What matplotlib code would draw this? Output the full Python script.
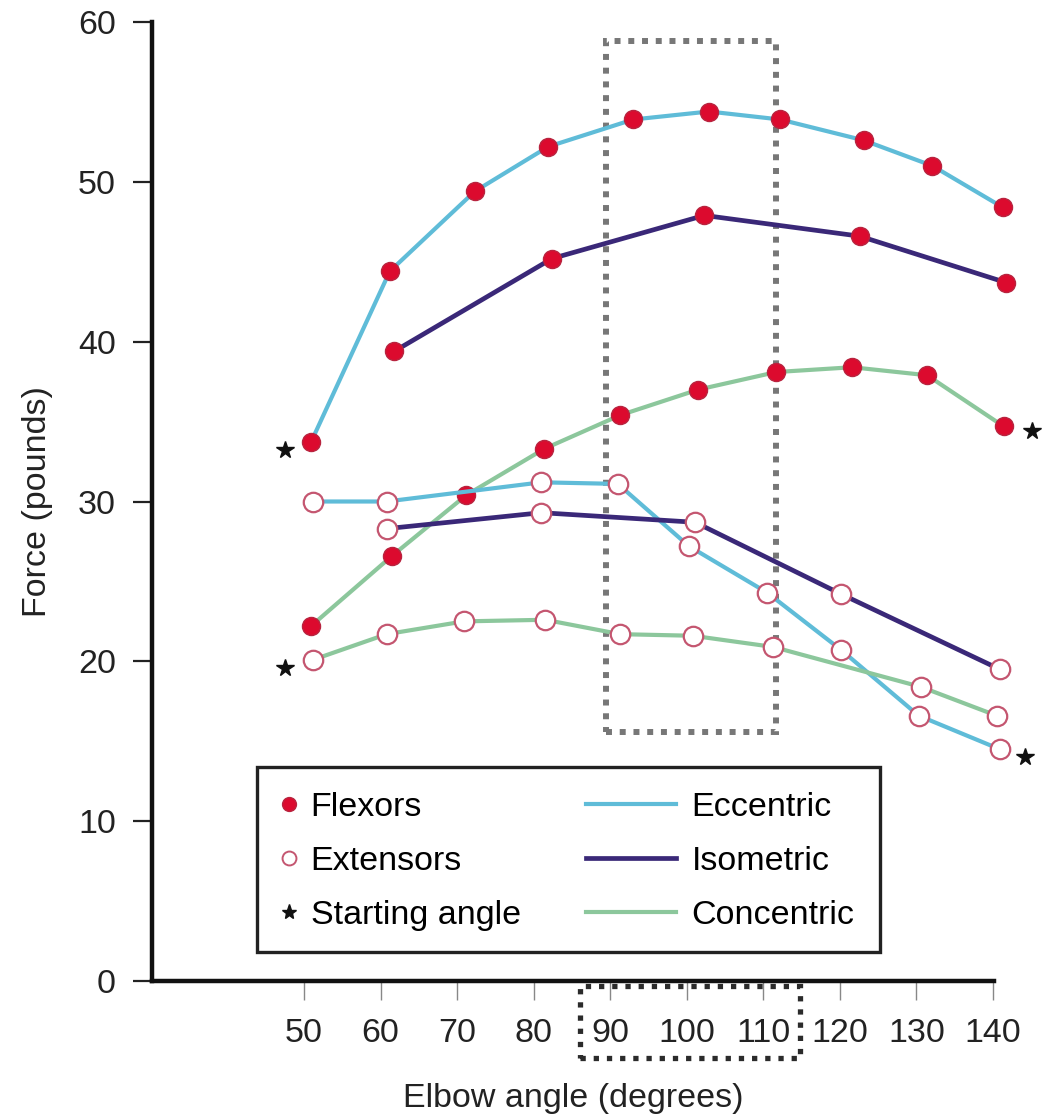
import matplotlib
matplotlib.use("Agg")
import matplotlib.pyplot as plt
from matplotlib.lines import Line2D
from matplotlib.patches import Rectangle

plt.rcParams['font.family'] = ['Liberation Sans', 'DejaVu Sans']

# ---- data ----
ecc_flex_x = [50.9, 61.2, 72.3, 81.9, 93.0, 102.9, 112.2, 123.1, 132.1, 141.3]
ecc_flex_y = [33.7, 44.4, 49.4, 52.2, 53.9, 54.4, 53.9, 52.6, 51.0, 48.4]

iso_flex_x = [61.8, 82.4, 102.3, 122.6, 141.7]
iso_flex_y = [39.4, 45.2, 47.9, 46.6, 43.7]

con_flex_x = [50.9, 61.5, 71.2, 81.4, 91.3, 101.5, 111.7, 121.6, 131.4, 141.4]
con_flex_y = [22.2, 26.6, 30.4, 33.3, 35.4, 37.0, 38.1, 38.4, 37.9, 34.7]

ecc_ext_x = [51.2, 60.8, 81.0, 91.0, 100.3, 110.5, 120.2, 130.3, 140.9]
ecc_ext_y = [30.0, 30.0, 31.2, 31.1, 27.2, 24.3, 20.7, 16.6, 14.5]

iso_ext_x = [60.8, 81.0, 101.1, 120.2, 140.9]
iso_ext_y = [28.3, 29.3, 28.7, 24.2, 19.5]

con_ext_x = [51.2, 60.8, 70.9, 81.5, 91.3, 100.8, 111.3, 130.6, 140.5]
con_ext_y = [20.1, 21.7, 22.5, 22.6, 21.7, 21.6, 20.9, 18.4, 16.6]

start_x = [47.5, 47.5, 145.1, 144.2]
start_y = [33.2, 19.6, 34.4, 14.0]

x_ticks = [50, 60, 70, 80, 90, 100, 110, 120, 130, 140]
y_ticks = [0, 10, 20, 30, 40, 50, 60]

box_main = (89.5, 15.6, 111.7, 58.8)     # x0, y0, x1, y1
box_ticks = (86.1, -4.8, 114.8, -0.3)

C_ECC = '#5fbcd8'
C_ISO = '#3a2878'
C_CON = '#8cc79c'
C_RED = '#dc0a2e'
C_RED_EDGE = '#b8243f'
C_OPEN_EDGE = '#c45670'

FS = 24.5

fig = plt.figure(figsize=(10.55, 11.14), dpi=100)
ax = fig.add_axes([152/1055, 1 - 981/1114, 842/1055, 959/1114])

def series(x, y, color, lw, filled):
    if filled:
        ax.plot(x, y, color=color, lw=lw, marker='o', ms=13,
                mfc=C_RED, mec=C_RED_EDGE, mew=1.0, clip_on=False, zorder=3)
    else:
        ax.plot(x, y, color=color, lw=lw, marker='o', ms=14,
                mfc='white', mec=C_OPEN_EDGE, mew=1.6, clip_on=False, zorder=3)

series(ecc_flex_x, ecc_flex_y, C_ECC, 3.0, True)
series(iso_flex_x, iso_flex_y, C_ISO, 3.4, True)
series(con_flex_x, con_flex_y, C_CON, 3.0, True)
series(ecc_ext_x, ecc_ext_y, C_ECC, 3.0, False)
series(iso_ext_x, iso_ext_y, C_ISO, 3.4, False)
series(con_ext_x, con_ext_y, C_CON, 3.0, False)

ax.plot(start_x, start_y, ls='none', marker='*', ms=13, color='#111111',
        clip_on=False, zorder=4)

# dotted highlight boxes
x0, y0, x1, y1 = box_main
ax.add_patch(Rectangle((x0, y0), x1 - x0, y1 - y0, fill=False,
                       ec='#777777', lw=4.3, ls=(0, (1, 1.3)),
                       capstyle='butt', zorder=2))
x0, y0, x1, y1 = box_ticks
ax.add_patch(Rectangle((x0, y0), x1 - x0, y1 - y0, fill=False,
                       ec='#2b2b2b', lw=3.8, ls=(0, (1, 1.5)),
                       capstyle='butt', zorder=2, clip_on=False))

ax.set_xlim(30.14, 140.14)
ax.set_ylim(0, 60)
ax.set_xticks(x_ticks)
ax.set_yticks(y_ticks)
for s in ['top', 'right']:
    ax.spines[s].set_visible(False)
for s in ['left', 'bottom']:
    ax.spines[s].set_linewidth(3.2)
    ax.spines[s].set_color('#111111')
ax.tick_params(axis='y', direction='out', length=14, width=1.6,
               color='#222222', pad=12, labelsize=FS, labelcolor='#222222')
ax.tick_params(axis='x', direction='out', length=14, width=1.0,
               color='#888888', pad=13, labelsize=FS, labelcolor='#222222')
ax.set_xlabel('Elbow angle (degrees)', fontsize=FS, labelpad=24, color='#222222')
ax.set_ylabel('Force (pounds)', fontsize=FS, labelpad=18, color='#222222')

# legend
frame = Rectangle((0.1247, 0.0302), 0.8646 - 0.1247, 0.2232 - 0.0302,
                  transform=ax.transAxes, fill=True, fc='white',
                  ec='#222222', lw=2.4, zorder=5)
ax.add_patch(frame)

h1 = [Line2D([], [], ls='none', marker='o', ms=10, mfc=C_RED, mec=C_RED_EDGE),
      Line2D([], [], ls='none', marker='o', ms=10, mfc='white', mec=C_OPEN_EDGE, mew=1.4),
      Line2D([], [], ls='none', marker='*', ms=11, color='#111111')]
l1 = ax.legend(h1, ['Flexors', 'Extensors', 'Starting angle'],
               loc='upper left', bbox_to_anchor=(0.148, 0.197),
               frameon=False, fontsize=FS, handlelength=0.7,
               handletextpad=0.3, labelspacing=0.68, borderpad=0,
               borderaxespad=0)
l1.set_zorder(6)
ax.add_artist(l1)

h2 = [Line2D([], [], color=C_ECC, lw=3.0),
      Line2D([], [], color=C_ISO, lw=3.4),
      Line2D([], [], color=C_CON, lw=3.0)]
l2 = ax.legend(h2, ['Eccentric', 'Isometric', 'Concentric'],
               loc='upper left', bbox_to_anchor=(0.5154, 0.197),
               frameon=False, fontsize=FS, handlelength=2.65,
               handletextpad=0.45, labelspacing=0.68, borderpad=0,
               borderaxespad=0)
l2.set_zorder(6)

fig.savefig('out.png', dpi=100)
